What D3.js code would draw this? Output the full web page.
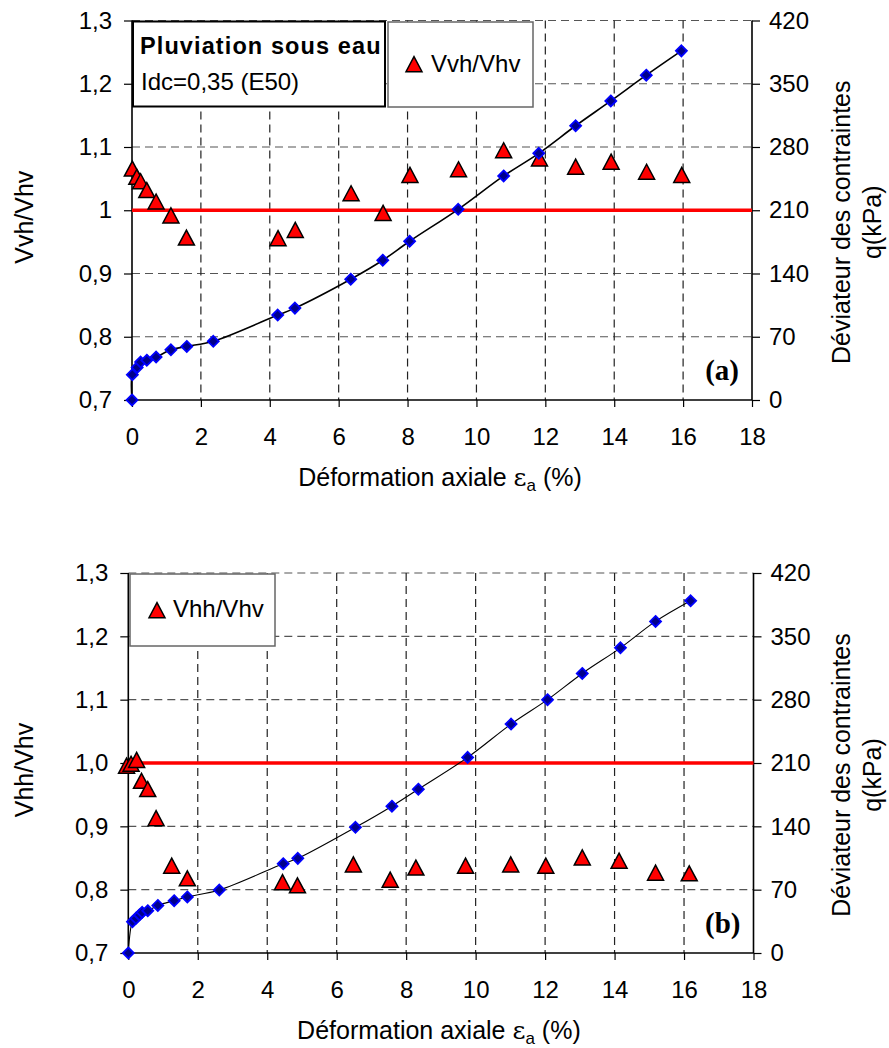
<!DOCTYPE html>
<html><head><meta charset="utf-8">
<script src="https://cdn.jsdelivr.net/npm/d3@7"></script>
<style>
html,body{margin:0;padding:0;background:#fff;}
svg text{font-family:"Liberation Sans",Arial,sans-serif;fill:#000;}
</style></head>
<body>
<svg id="chart" width="889" height="1048"></svg>
<script>
// ---------- data ----------
const xTicks = [0, 2, 4, 6, 8, 10, 12, 14, 16, 18];
const leftTicks = [0.7, 0.8, 0.9, 1.0, 1.1, 1.2, 1.3];
const leftLabelsA = ["0,7", "0,8", "0,9", "1", "1,1", "1,2", "1,3"];
const leftLabelsB = ["0,7", "0,8", "0,9", "1,0", "1,1", "1,2", "1,3"];
const rightTicks = [0, 70, 140, 210, 280, 350, 420];

// panel (a): deviator stress q (kPa) vs axial strain (%)
const aStrainQ = [0, 0.01, 0.15, 0.25, 0.43, 0.70, 1.13, 1.59, 2.36, 4.23, 4.73, 6.35, 7.28, 8.06, 9.47, 10.79, 11.81, 12.88, 13.90, 14.93, 15.95];
const aQ       = [0, 28, 36, 42, 44, 47.5, 55.6, 59.3, 65, 94, 101.7, 133.7, 154.7, 175.7, 211, 248, 273, 303.5, 331, 359.5, 386.4];
// panel (a): Vvh/Vhv
const aStrainV = [0.01, 0.14, 0.25, 0.43, 0.70, 1.13, 1.58, 4.24, 4.74, 6.36, 7.29, 8.07, 9.48, 10.79, 11.83, 12.88, 13.91, 14.94, 15.96];
const aRatio   = [1.063, 1.050, 1.043, 1.029, 1.011, 0.989, 0.954, 0.953, 0.966, 1.024, 0.993, 1.053, 1.062, 1.092, 1.079, 1.066, 1.074, 1.058, 1.053];

// panel (b): deviator stress q (kPa)
const bStrainQ = [0, 0.12, 0.22, 0.32, 0.40, 0.56, 0.85, 1.32, 1.70, 2.62, 4.46, 4.88, 6.54, 7.59, 8.35, 9.77, 11.02, 12.07, 13.07, 14.17, 15.18, 16.19];
const bQ       = [0, 34.6, 38.3, 42, 45, 46.7, 52.6, 57.8, 62, 69.6, 98.7, 104.6, 138.9, 162.3, 181, 216.2, 253, 280, 309, 337.3, 366.5, 389.3];
// panel (b): Vhh/Vhv
const bStrainV = [-0.05, 0.08, 0.24, 0.38, 0.56, 0.80, 1.25, 1.70, 4.44, 4.87, 6.48, 7.54, 8.28, 9.71, 11.01, 12.02, 13.07, 14.13, 15.18, 16.15];
const bRatio   = [0.993, 0.996, 1.002, 0.969, 0.956, 0.910, 0.835, 0.815, 0.809, 0.804, 0.837, 0.813, 0.832, 0.835, 0.837, 0.835, 0.848, 0.843, 0.824, 0.823];

const refRatio = 1.0;

// ---------- drawing ----------
const svg = d3.select("#chart");

function triPath(w, h) {
  return `M0,${-h*0.62}L${w/2},${h*0.38}L${-w/2},${h*0.38}Z`;
}
function diaPath(r) {
  return `M0,${-r}L${r},0L0,${r}L${-r},0Z`;
}

function panel(cfg) {
  const g = svg.append("g");
  const x = d3.scaleLinear().domain([0, 18]).range([cfg.x0, cfg.x1]);
  const y = d3.scaleLinear().domain([0.7, 1.3]).range([cfg.y1, cfg.y0]);
  const yr = d3.scaleLinear().domain([0, 420]).range([cfg.y1, cfg.y0]);

  // grid
  g.append("g").selectAll("line").data(leftTicks.filter(d => d > 0.7)).join("line")
    .attr("x1", cfg.x0).attr("x2", cfg.x1)
    .attr("y1", d => y(d)).attr("y2", d => y(d))
    .attr("stroke", "#555").attr("stroke-width", 1.2).attr("stroke-dasharray", "8,5");
  g.append("g").selectAll("line").data(xTicks.filter(d => d > 0 && d < 18)).join("line")
    .attr("x1", d => x(d)).attr("x2", d => x(d))
    .attr("y1", cfg.y0).attr("y2", cfg.y1)
    .attr("stroke", "#222").attr("stroke-width", 1.2).attr("stroke-dasharray", "8,5");

  // axes
  const axL = g.append("g").attr("transform", `translate(${cfg.x0},0)`)
    .call(d3.axisLeft(y).tickValues(leftTicks).tickSize(8).tickPadding(12)
      .tickFormat((d, i) => cfg.leftLabels[i]));
  const axR = g.append("g").attr("transform", `translate(${cfg.x1},0)`)
    .call(d3.axisRight(yr).tickValues(rightTicks).tickSize(8).tickPadding(9));
  const axB = g.append("g").attr("transform", `translate(0,${cfg.y1})`)
    .call(d3.axisBottom(x).tickValues(xTicks).tickSize(7).tickPadding(21));
  [axL, axR, axB].forEach(a => {
    a.select(".domain").attr("stroke", "#000").attr("stroke-width", 1.6);
    a.selectAll(".tick line").attr("stroke", "#000").attr("stroke-width", 1.2);
    a.selectAll(".tick text").attr("font-size", 24)
      .attr("font-family", '"Liberation Sans",Arial,sans-serif').attr("fill", "#000");
  });
  axL.select(".domain").attr("d", `M0,${cfg.y0}V${cfg.y1}`);
  axR.select(".domain").attr("d", `M0,${cfg.y0}V${cfg.y1}`);
  axB.select(".domain").attr("d", `M${cfg.x0},0H${cfg.x1}`);

  // reference line
  g.append("line").attr("x1", cfg.x0).attr("x2", cfg.x1)
    .attr("y1", y(refRatio)).attr("y2", y(refRatio))
    .attr("stroke", "#ff0000").attr("stroke-width", 3.5);

  // ratio triangles
  const tri = cfg.sx.map((d, i) => [d, cfg.sv[i]]);
  g.append("g").selectAll("path").data(tri).join("path")
    .attr("d", triPath(16, 15))
    .attr("transform", d => `translate(${x(d[0])},${y(d[1])})`)
    .attr("fill", "#ff0000").attr("stroke", "#000").attr("stroke-width", 1.5)
    .attr("stroke-linejoin", "miter");

  // q curve
  const qd = cfg.qx.map((d, i) => [d, cfg.qv[i]]);
  g.append("path").datum(qd)
    .attr("d", d3.line().x(d => x(d[0])).y(d => yr(d[1])).curve(d3.curveCatmullRom.alpha(0.5)))
    .attr("fill", "none").attr("stroke", "#000").attr("stroke-width", cfg.lw);
  g.append("g").selectAll("path").data(qd).join("path")
    .attr("d", diaPath(5.5))
    .attr("transform", d => `translate(${x(d[0])},${yr(d[1])})`)
    .attr("fill", "#00008b").attr("stroke", "#0000ff").attr("stroke-width", 1.8);

  // axis titles
  const midY = (cfg.y0 + cfg.y1) / 2;
  g.append("text").attr("transform", `translate(33,${midY + 7}) rotate(-90)`)
    .attr("text-anchor", "middle").attr("font-size", 25).text(cfg.leftTitle);
  const rt = g.append("text").attr("transform", `translate(850,${midY + 12}) rotate(-90)`)
    .attr("text-anchor", "middle").attr("font-size", 25);
  rt.append("tspan").attr("x", 0).attr("y", 0).text("Déviateur des contraintes");
  rt.append("tspan").attr("x", 0).attr("y", 31).text("q(kPa)");
  const xt = g.append("text").attr("x", (cfg.x0 + cfg.x1) / 2 - 2).attr("y", cfg.y1 + 86)
    .attr("text-anchor", "middle").attr("font-size", 25);
  xt.append("tspan").text("Déformation axiale ");
  xt.append("tspan").attr("font-family", '"DejaVu Serif",serif').attr("font-size", 25).text("ε");
  xt.append("tspan").attr("font-size", 17).attr("dy", 5).text("a");
  xt.append("tspan").attr("dy", -5).text(" (%)");

  // panel label
  g.append("text").attr("x", cfg.x1 - 13).attr("y", cfg.y1 - 20)
    .attr("text-anchor", "end").attr("font-size", 29).attr("font-weight", "bold")
    .style("font-family", '"Liberation Serif","Times New Roman",serif')
    .text(cfg.label);
  return { g, x, y };
}

// ----- panel (a) -----
const A = panel({
  x0: 132, x1: 752, y0: 20.5, y1: 400, lw: 1.6,
  leftLabels: leftLabelsA, leftTitle: "Vvh/Vhv", label: "(a)",
  sx: aStrainV, sv: aRatio, qx: aStrainQ, qv: aQ
});
// title box
A.g.append("rect").attr("x", 133).attr("y", 21.5).attr("width", 252).attr("height", 85)
  .attr("fill", "#fff").attr("stroke", "#000").attr("stroke-width", 2);
A.g.append("text").attr("x", 140).attr("y", 54).attr("font-size", 23.5).attr("font-weight", "bold")
  .attr("letter-spacing", 1.1).text("Pluviation sous eau");
A.g.append("text").attr("x", 141).attr("y", 90).attr("font-size", 24).text("Idc=0,35 (E50)");
// legend
A.g.append("rect").attr("x", 388).attr("y", 22).attr("width", 145).attr("height", 85)
  .attr("fill", "#fff").attr("stroke", "#666").attr("stroke-width", 1.5);
A.g.append("path").attr("d", triPath(16, 15)).attr("transform", "translate(414,66)")
  .attr("fill", "#ff0000").attr("stroke", "#000").attr("stroke-width", 1.5);
A.g.append("text").attr("x", 431).attr("y", 72).attr("font-size", 24).text("Vvh/Vhv");

// ----- panel (b) -----
const B = panel({
  x0: 128.3, x1: 753.5, y0: 573, y1: 953, lw: 1.1,
  leftLabels: leftLabelsB, leftTitle: "Vhh/Vhv", label: "(b)",
  sx: bStrainV, sv: bRatio, qx: bStrainQ, qv: bQ
});
B.g.append("rect").attr("x", 130).attr("y", 574).attr("width", 145).attr("height", 72)
  .attr("fill", "#fff").attr("stroke", "#666").attr("stroke-width", 1.5);
B.g.append("path").attr("d", triPath(16, 15)).attr("transform", "translate(157,612)")
  .attr("fill", "#ff0000").attr("stroke", "#000").attr("stroke-width", 1.5);
B.g.append("text").attr("x", 173).attr("y", 617).attr("font-size", 24).text("Vhh/Vhv");
</script>
</body></html>
